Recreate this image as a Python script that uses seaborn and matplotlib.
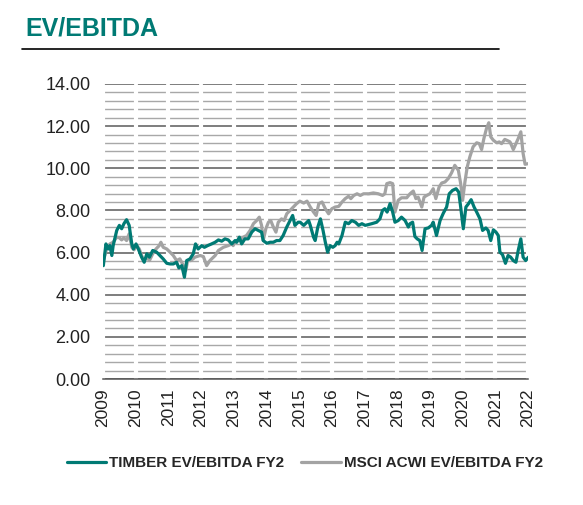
import numpy as np
import pandas as pd
import matplotlib.pyplot as plt
import matplotlib.lines as mlines
import seaborn as sns

# decimal years and values
timber_year = [2009.01, 2009.09, 2009.16, 2009.21, 2009.27, 2009.31, 2009.42, 2009.50, 2009.57, 2009.64,
               2009.72, 2009.80, 2009.88, 2009.93, 2010.01, 2010.08, 2010.18, 2010.26, 2010.34, 2010.42,
               2010.52, 2010.64, 2010.74, 2010.84, 2010.95, 2011.05, 2011.15, 2011.25, 2011.32, 2011.41,
               2011.49, 2011.56, 2011.66, 2011.76, 2011.83, 2011.91, 2012.02, 2012.10, 2012.20, 2012.32,
               2012.43, 2012.53, 2012.63, 2012.73, 2012.83, 2012.94, 2013.04, 2013.09, 2013.17, 2013.24,
               2013.34, 2013.44, 2013.55, 2013.65, 2013.75, 2013.85, 2013.90, 2014.01, 2014.11, 2014.21,
               2014.31, 2014.41, 2014.51, 2014.62, 2014.72, 2014.80, 2014.87, 2014.97, 2015.03, 2015.14,
               2015.24, 2015.29, 2015.34, 2015.44, 2015.49, 2015.57, 2015.65, 2015.73, 2015.80, 2015.87,
               2015.95, 2016.03, 2016.10, 2016.16, 2016.21, 2016.31, 2016.41, 2016.51, 2016.61, 2016.72,
               2016.82, 2016.92, 2017.02, 2017.22, 2017.37, 2017.47, 2017.55, 2017.62, 2017.69, 2017.78,
               2017.86, 2017.93, 2018.03, 2018.13, 2018.24, 2018.34, 2018.39, 2018.47, 2018.54, 2018.61,
               2018.69, 2018.76, 2018.85, 2018.95, 2019.05, 2019.10, 2019.20, 2019.31, 2019.41, 2019.51,
               2019.59, 2019.69, 2019.80, 2019.88, 2019.94, 2020.02, 2020.10, 2020.18, 2020.26, 2020.35,
               2020.43, 2020.53, 2020.61, 2020.71, 2020.78, 2020.86, 2020.94, 2021.02, 2021.09, 2021.14,
               2021.22, 2021.31, 2021.39, 2021.47, 2021.55, 2021.63, 2021.70, 2021.78, 2021.85, 2021.93,
               2022.01]
timber_val = [5.38, 6.41, 6.17, 6.33, 5.86, 6.33, 7.05, 7.29, 7.13, 7.37,
              7.56, 7.29, 6.41, 6.17, 6.41, 6.17, 5.78, 5.54, 5.94, 5.78,
              6.10, 6.02, 5.86, 5.70, 5.49, 5.46, 5.46, 5.54, 5.27, 5.38,
              4.83, 5.62, 5.70, 5.94, 6.41, 6.17, 6.33, 6.25, 6.33, 6.41,
              6.49, 6.60, 6.54, 6.65, 6.60, 6.41, 6.57, 6.49, 6.73, 6.41,
              6.65, 6.65, 6.97, 7.13, 7.05, 6.97, 6.57, 6.44, 6.49, 6.49,
              6.57, 6.57, 6.81, 7.21, 7.52, 7.76, 7.29, 7.44, 7.44, 7.29,
              7.44, 7.52, 7.29, 6.73, 6.57, 7.21, 7.60, 7.05, 6.49, 6.02,
              6.33, 6.25, 6.33, 6.49, 6.41, 6.81, 7.44, 7.37, 7.52, 7.44,
              7.29, 7.37, 7.29, 7.37, 7.44, 7.60, 8.00, 8.08, 7.92, 8.32,
              7.92, 7.44, 7.52, 7.68, 7.52, 7.21, 7.37, 7.44, 6.76, 6.65,
              6.57, 6.10, 7.13, 7.17, 7.29, 7.44, 6.81, 7.52, 7.87, 8.16,
              8.79, 8.95, 9.03, 8.87, 8.16, 7.13, 8.16, 8.32, 8.51, 8.16,
              7.92, 7.60, 7.05, 7.17, 7.05, 6.57, 7.08, 6.97, 6.81, 6.02,
              5.90, 5.49, 5.86, 5.78, 5.62, 5.54, 6.10, 6.65, 5.78, 5.62,
              5.78]

msci_year = [2009.01, 2009.11, 2009.21, 2009.31, 2009.42, 2009.50, 2009.57, 2009.64, 2009.72, 2009.80,
             2009.88, 2009.95, 2010.03, 2010.11, 2010.18, 2010.26, 2010.34, 2010.42, 2010.52, 2010.62,
             2010.72, 2010.77, 2010.84, 2010.95, 2011.05, 2011.15, 2011.25, 2011.35, 2011.46, 2011.53,
             2011.59, 2011.69, 2011.81, 2011.97, 2012.07, 2012.17, 2012.27, 2012.43, 2012.53, 2012.68,
             2012.83, 2012.94, 2012.98, 2013.09, 2013.19, 2013.29, 2013.39, 2013.50, 2013.60, 2013.70,
             2013.78, 2013.85, 2013.90, 2013.98, 2014.06, 2014.13, 2014.21, 2014.29, 2014.36, 2014.46,
             2014.54, 2014.62, 2014.72, 2014.82, 2014.92, 2015.02, 2015.14, 2015.24, 2015.34, 2015.44,
             2015.52, 2015.60, 2015.70, 2015.80, 2015.90, 2016.00, 2016.10, 2016.21, 2016.31, 2016.41,
             2016.51, 2016.58, 2016.67, 2016.77, 2016.87, 2016.97, 2017.13, 2017.27, 2017.42, 2017.55,
             2017.62, 2017.68, 2017.78, 2017.86, 2017.93, 2018.03, 2018.13, 2018.29, 2018.39, 2018.49,
             2018.57, 2018.64, 2018.75, 2018.82, 2018.90, 2019.00, 2019.10, 2019.18, 2019.28, 2019.36,
             2019.46, 2019.56, 2019.66, 2019.76, 2019.87, 2019.94, 2020.00, 2020.07, 2020.14, 2020.22,
             2020.32, 2020.43, 2020.51, 2020.58, 2020.65, 2020.73, 2020.80, 2020.86, 2020.94, 2021.04,
             2021.12, 2021.19, 2021.29, 2021.39, 2021.45, 2021.55, 2021.63, 2021.70, 2021.78, 2021.85,
             2021.91, 2022.01]
msci_val = [5.62, 6.17, 6.41, 6.49, 6.73, 6.70, 6.60, 6.70, 6.57, 6.89,
            6.25, 6.13, 6.33, 6.17, 5.86, 5.62, 5.78, 5.62, 5.94, 6.17,
            6.33, 6.49, 6.25, 6.17, 6.02, 5.86, 5.62, 5.70, 5.38, 5.14,
            5.62, 5.62, 5.78, 5.86, 5.81, 5.38, 5.62, 5.86, 6.10, 6.25,
            6.33, 6.41, 6.33, 6.57, 6.57, 6.73, 6.81, 7.05, 7.37, 7.52,
            7.68, 7.29, 6.57, 7.13, 7.44, 7.52, 7.21, 6.97, 7.44, 7.60,
            7.52, 7.84, 8.00, 8.16, 8.32, 8.44, 8.35, 8.44, 8.16, 7.92,
            7.76, 8.32, 8.40, 8.08, 7.84, 8.08, 8.16, 8.19, 8.40, 8.56,
            8.67, 8.56, 8.71, 8.79, 8.71, 8.79, 8.79, 8.83, 8.79, 8.71,
            8.79, 9.27, 9.32, 9.27, 7.92, 8.48, 8.60, 8.60, 8.79, 8.92,
            8.56, 8.63, 8.16, 8.63, 8.71, 8.79, 9.03, 8.56, 9.11, 9.30,
            9.35, 9.51, 9.78, 10.14, 9.90, 9.27, 8.48, 9.35, 10.06, 10.54,
            11.02, 11.21, 11.17, 10.89, 11.41, 11.89, 12.16, 11.49, 11.33, 11.21,
            11.25, 11.17, 11.37, 11.30, 11.25, 10.89, 11.17, 11.41, 11.73, 10.70,
            10.19, 10.22]

years = list(range(2009, 2023))
y_major = [0, 2, 4, 6, 8, 10, 12, 14]

TEAL = '#007A74'
GRAY = '#A3A3A3'

sns.set_style('white')
plt.rcParams['font.family'] = ['Liberation Sans', 'DejaVu Sans']

df_t = pd.DataFrame({'year': timber_year, 'value': timber_val})
df_m = pd.DataFrame({'year': msci_year, 'value': msci_val})

fig = plt.figure(figsize=(5.83, 5.05), dpi=100)
ax = fig.add_axes([0.1767, 0.2495, 0.729, 0.5842])

# grid: fine lines every 0.4, darker every 2
for v in np.arange(0, 14.01, 0.4):
    if abs(v - round(v / 2) * 2) < 1e-6:
        ax.axhline(v, color='#5a5a5a', lw=1.1, zorder=0.5)
    else:
        ax.axhline(v, color='#a8a8a8', lw=1.0, zorder=0.5)
# small gaps at each year
for yr in years:
    ax.axvline(yr, ymin=0, ymax=0.995, color='white', lw=3, zorder=0.8)

sns.lineplot(data=df_t, x='year', y='value', ax=ax, color=TEAL, lw=2.3, zorder=3)
sns.lineplot(data=df_m, x='year', y='value', ax=ax, color=GRAY, lw=2.3, zorder=2)

ax.set_xlim(2009, 2022)
ax.set_ylim(0, 14)
ax.set_xticks(years)
ax.set_xticklabels([str(y) for y in years], rotation=90, fontsize=12.5, color='#222222')
ax.set_yticks(y_major)
ax.set_yticklabels([f'{v:.2f}' for v in y_major], fontsize=13, color='#222222')
ax.tick_params(axis='x', direction='out', length=5, width=1, color='#555555', pad=2)
ax.tick_params(axis='y', length=0, pad=9)
ax.set_xlabel('')
ax.set_ylabel('')
for s in ['top', 'right', 'left']:
    ax.spines[s].set_visible(False)
ax.spines['bottom'].set_color('#555555')
ax.spines['bottom'].set_linewidth(1.1)

fig.text(25 / 583, 1 - 28 / 505, 'EV/EBITDA', color=TEAL, fontsize=18,
         fontweight='bold', va='center', ha='left')
fig.add_artist(mlines.Line2D([22 / 583, 499 / 583], [1 - 49 / 505, 1 - 49 / 505],
                             color='black', lw=1.2))

h1 = mlines.Line2D([], [], color=TEAL, lw=2.3)
h2 = mlines.Line2D([], [], color=GRAY, lw=2.3)
fig.legend([h1, h2], ['TIMBER EV/EBITDA FY2', 'MSCI ACWI EV/EBITDA FY2'],
           loc='center', bbox_to_anchor=(0.523, 1 - 463 / 505), ncol=2, frameon=False,
           handlelength=2.6, handletextpad=0.2, columnspacing=1.1,
           prop={'size': 11, 'weight': 'bold'})

fig.savefig('out.png', dpi=100)
